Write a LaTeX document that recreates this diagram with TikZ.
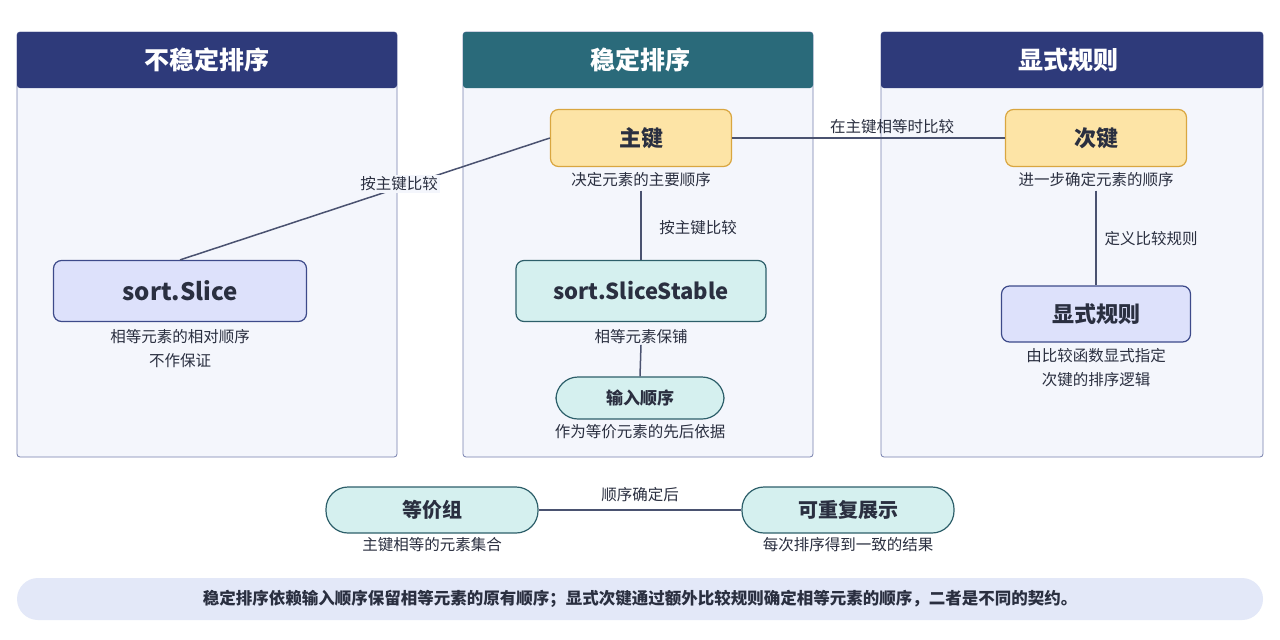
\documentclass[tikz,border=0pt]{standalone}
\usepackage{fontspec}
\setmainfont{Noto Sans CJK SC}
\usetikzlibrary{positioning}
\definecolor{navy}{HTML}{2E3A7A}
\definecolor{teal}{HTML}{2A6A7A}
\definecolor{panelbg}{HTML}{F4F6FC}
\definecolor{goldfill}{HTML}{FDE4A6}
\definecolor{golddraw}{HTML}{D9A640}
\definecolor{lilacfill}{HTML}{DDE1FB}
\definecolor{lilacdraw}{HTML}{3D4A8A}
\definecolor{mintfill}{HTML}{D5F0EF}
\definecolor{mintdraw}{HTML}{2D5F6A}
\definecolor{wire}{HTML}{4A5270}
\definecolor{ink}{HTML}{2A2F40}
\definecolor{barfill}{HTML}{E3E8F8}
\begin{document}
\begin{tikzpicture}[x=1pt,y=-1pt]
 	\tikzstyle{panel}=[draw=lilacdraw!70, fill=panelbg, rounded corners=3pt, line width=0.8pt]
 	\tikzstyle{head}=[text=white, font=\bfseries\fontsize{25}{28}\selectfont]
 	\tikzstyle{key}=[rectangle, rounded corners=8pt, line width=1.2pt, text=ink, font=\bfseries\fontsize{22}{24}\selectfont]
 	\tikzstyle{pill}=[rectangle, rounded corners=22pt, line width=1.2pt, text=ink, fill=mintfill, draw=mintdraw, font=\bfseries\fontsize{20}{22}\selectfont]
 	\tikzstyle{note}=[text=ink, font=\fontsize{15.5}{24}\selectfont, align=center]
 	\tikzstyle{connect}=[wire, line width=1.5pt]
 	\useasboundingbox (0,0) rectangle (1280,640);
 	\fill[white] (0,0) rectangle (1280,640);
 	% panels
 	\draw[panel] (17,32) rectangle (397,457);
 	\draw[panel] (463,32) rectangle (813,457);
 	\draw[panel] (881,32) rectangle (1263,457);
 	\fill[navy, rounded corners=3pt] (17,32) rectangle (397,88);
 	\fill[teal, rounded corners=3pt] (463,32) rectangle (813,88);
 	\fill[navy, rounded corners=3pt] (881,32) rectangle (1263,88);
 	\node[head] (hleft) at (207,60) {不稳定排序};
 	\node[head] (hmid) at (640,60) {稳定排序};
 	\node[head] (hright) at (1068,60) {显式规则};
 	% nodes
 	\node[key, fill=goldfill, draw=golddraw, minimum width=181pt, minimum height=57pt] (primary) at (641,138) {主键};
 	\node[note, below=2pt of primary] (primarynote) {决定元素的主要顺序};
 	\node[key, fill=goldfill, draw=golddraw, minimum width=181pt, minimum height=57pt] (secondary) at (1096,138) {次键};
 	\node[note, below=2pt of secondary] (secondarynote) {进一步确定元素的顺序};
 	\node[key, fill=lilacfill, draw=lilacdraw, minimum width=253pt, minimum height=61pt, font=\bfseries\fontsize{24}{26}\selectfont] (slice) at (180,291) {sort.Slice};
 	\node[note, below=4pt of slice] (slicenote) {相等元素的相对顺序\\不作保证};
 	\node[key, fill=mintfill, draw=mintdraw, minimum width=250pt, minimum height=61pt] (stable) at (641,291) {sort.SliceStable};
 	\node[note, fill=panelbg, inner sep=1pt, below=6pt of stable] (stablenote) {相等元素保铺};
 	\node[pill, minimum width=168pt, minimum height=42pt, font=\bfseries\fontsize{17}{19}\selectfont] (input) at (640,398) {输入顺序};
 	\node[note, below=1pt of input] (inputnote) {作为等价元素的先后依据};
 	\node[key, fill=lilacfill, draw=lilacdraw, minimum width=189pt, minimum height=56pt] (rule) at (1096,314) {显式规则};
 	\node[note, below=2pt of rule] (rulenote) {由比较函数显式指定\\次键的排序逻辑};
 	\node[pill, minimum width=212pt, minimum height=46pt] (group) at (432,510) {等价组};
 	\node[note, below=0pt of group] (groupnote) {主键相等的元素集合};
 	\node[pill, minimum width=212pt, minimum height=46pt] (repeat) at (848,510) {可重复展示};
 	\node[note, below=0pt of repeat] (repeatnote) {每次排序得到一致的结果};
 	% connectors
 	\draw[connect] (slice.north) -- (primary.west);
 	\node[note, fill=panelbg, inner sep=2pt] (lblcmp) at (399,184) {按主键比较};
 	\draw[connect] (primary.east) -- (secondary.west);
 	\node[note] (lbleq) at (892,127) {在主键相等时比较};
 	\draw[connect] (primarynote.south) -- (stable.north);
 	\node[note] (lblcmp2) at (698,228) {按主键比较};
 	\draw[connect] (stablenote.south) -- (input.north);
 	\draw[connect] (secondarynote.south) -- (rule.north);
 	\node[note] (lblrule) at (1151,239) {定义比较规则};
 	\draw[connect] (group.east) -- (repeat.west);
 	\node[note] (lblorder) at (640,495) {顺序确定后};
 	% footer
 	\node[fill=barfill, rounded corners=21pt, minimum width=1246pt, minimum height=42pt, text=ink, font=\bfseries\fontsize{16.5}{20}\selectfont] (footer) at (640,599) {稳定排序依赖输入顺序保留相等元素的原有顺序；显式次键通过额外比较规则确定相等元素的顺序，二者是不同的契约。};
\end{tikzpicture}
\end{document}
